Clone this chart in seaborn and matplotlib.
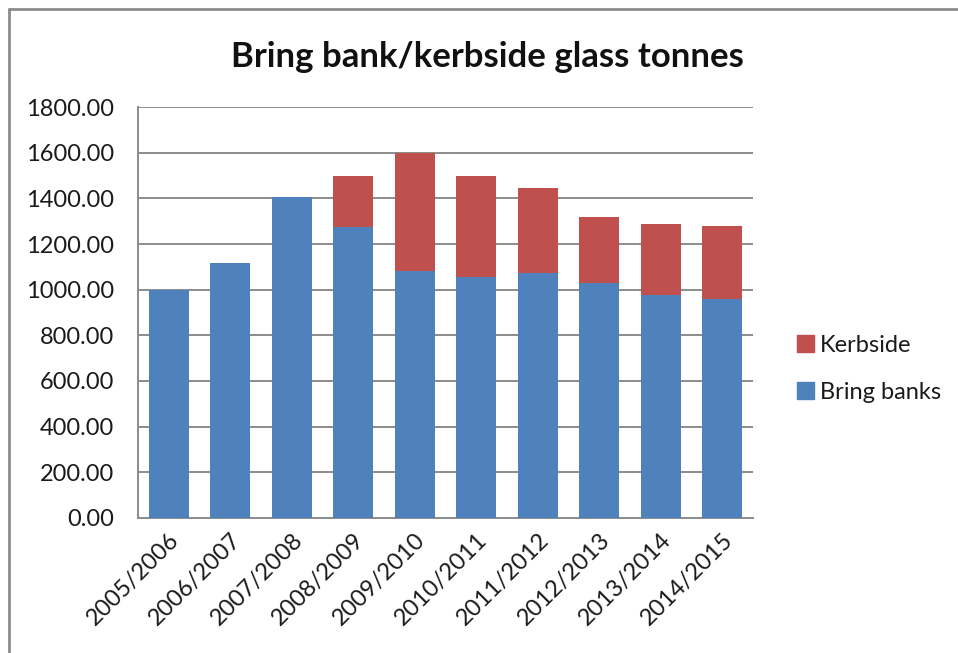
import matplotlib
matplotlib.use("Agg")
import matplotlib.pyplot as plt
from matplotlib.lines import Line2D
from matplotlib.patches import Patch
import seaborn as sns
import pandas as pd

# Glass tonnes per year
years = ["2005/2006", "2006/2007", "2007/2008", "2008/2009", "2009/2010",
         "2010/2011", "2011/2012", "2012/2013", "2013/2014", "2014/2015"]
bring_banks = [1000, 1115, 1405, 1273, 1081, 1054, 1075, 1030, 975, 958]
kerbside = [0, 0, 0, 227, 519, 446, 370, 288, 311, 319]

BLUE = "#4F81BD"
RED = "#C0504D"
GRID = "#8C8C8C"

df = pd.DataFrame({"year": years, "bring": bring_banks, "kerb": kerbside})
df["total"] = df["bring"] + df["kerb"]

sns.set_theme(style="white")
plt.rcParams["font.family"] = ["Lato", "DejaVu Sans"]

fig = plt.figure(figsize=(9.58, 6.53), dpi=100)
ax = fig.add_axes([0.144, 0.207, 0.642, 0.629])

# Stacked bars: full totals in red, bring-bank share drawn over in blue
sns.barplot(data=df, x="year", y="total", color=RED, width=0.65,
            saturation=1, linewidth=0, ax=ax, zorder=3)
sns.barplot(data=df, x="year", y="bring", color=BLUE, width=0.65,
            saturation=1, linewidth=0, ax=ax, zorder=3)

ax.set_ylim(0, 1800)
ax.set_xlim(-0.5, len(years) - 0.5)
ax.set_yticks(range(0, 1801, 200))
ax.set_yticklabels([f"{v:.2f}" for v in range(0, 1801, 200)])
ax.yaxis.grid(True, color=GRID, linewidth=1.4, zorder=0)
ax.set_axisbelow(True)
ax.set_xlabel("")
ax.set_ylabel("")
for side in ("top", "right"):
    ax.spines[side].set_visible(False)
for side in ("left", "bottom"):
    ax.spines[side].set_color(GRID)
    ax.spines[side].set_linewidth(1.4)
ax.tick_params(axis="y", length=0, pad=17, labelsize=17, colors="#1a1a1a")
ax.tick_params(axis="x", length=0, pad=8, labelsize=17, colors="#1a1a1a")
for lbl in ax.get_xticklabels():
    lbl.set_rotation(45)
    lbl.set_ha("right")
    lbl.set_rotation_mode("anchor")

fig.text(0.509, 0.912, "Bring bank/kerbside glass tonnes", ha="center",
         va="center", fontsize=25, fontweight="bold", color="#111111")

handles = [Patch(facecolor=RED, edgecolor=RED, label="Kerbside"),
           Patch(facecolor=BLUE, edgecolor=BLUE, label="Bring banks")]
fig.legend(handles=handles, loc="center left", bbox_to_anchor=(0.81, 0.435),
           frameon=False, fontsize=17, handlelength=0.7, handleheight=0.7,
           handletextpad=0.25, labelspacing=1.1, labelcolor="#1a1a1a")

# Chart-area border along the top and left edges
fig.add_artist(Line2D([0.0094, 1.0], [0.986, 0.986], color="#8C8C8C",
                      linewidth=2, transform=fig.transFigure))
fig.add_artist(Line2D([0.0094, 0.0094], [0.0, 0.986], color="#8C8C8C",
                      linewidth=2, transform=fig.transFigure))

fig.savefig("out.png", dpi=100, facecolor="white")
